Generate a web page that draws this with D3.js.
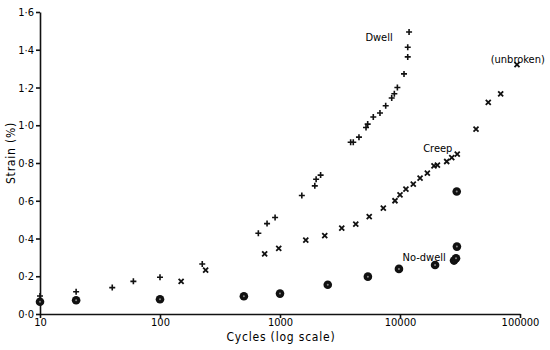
<!DOCTYPE html>
<html>
<head>
<meta charset="utf-8">
<script src="https://cdn.jsdelivr.net/npm/d3@7/dist/d3.min.js"></script>
<style>
  body { margin: 0; background: #fff; }
  svg { display: block; }
  text { font-family: "DejaVu Sans Condensed", "Liberation Sans Narrow", sans-serif; fill: #000; }
  .axis path, .axis line { stroke: #111; stroke-width: 1.6; }
</style>
</head>
<body>
<svg id="chart" width="550" height="350"></svg>
<script>
// values (cycles are on a log axis)
const dwellCycles = [10, 20, 40, 60, 100, 225, 660, 780, 910, 1520, 1950, 2000, 2180,
                     3880, 4080, 4550, 5210, 5380, 5990, 6810, 7600, 8530, 8970, 9510,
                     10800, 11600, 11600, 11900];
const dwellStrain = [0.095, 0.118, 0.14, 0.173, 0.195, 0.265, 0.428, 0.479, 0.511, 0.628, 0.679, 0.714, 0.736,
                     0.91, 0.91, 0.937, 0.988, 1.006, 1.044, 1.065, 1.103, 1.144, 1.167, 1.2,
                     1.272, 1.362, 1.413, 1.494];

const creepCycles = [150, 240, 745, 976, 1640, 2360, 3270, 4280, 5540, 7260, 9080, 10000,
                     11200, 12900, 14700, 16900, 19200, 20500, 24500, 27000, 30000,
                     43000, 54400, 69000, 94400];
const creepStrain = [0.173, 0.233, 0.318, 0.348, 0.391, 0.415, 0.455, 0.476, 0.516, 0.561, 0.6, 0.631,
                     0.661, 0.688, 0.72, 0.746, 0.785, 0.789, 0.808, 0.829, 0.847,
                     0.98, 1.121, 1.166, 1.321];

const noDwellCycles = [10, 20, 100, 500, 1000, 2500, 5400, 9800, 19600, 28200, 29300, 29800, 29700];
const noDwellStrain = [0.065, 0.073, 0.078, 0.094, 0.108, 0.155, 0.198, 0.239, 0.26, 0.283, 0.295, 0.357, 0.649];

const xTicks = [10, 100, 1000, 10000, 100000];
const yTicks = [0, 0.2, 0.4, 0.6, 0.8, 1.0, 1.2, 1.4, 1.6];

// series labels, anchored in data space
const labels = [
    {text: "Dwell", cycles: 5150, strain: 1.445},
    {text: "(unbroken)", cycles: 57000, strain: 1.33},
    {text: "Creep", cycles: 15600, strain: 0.86},
    {text: "No-dwell", cycles: 10500, strain: 0.28}
];

const svg = d3.select("#chart");
const x = d3.scaleLog().domain([10, 100000]).range([40, 520]);
const y = d3.scaleLinear().domain([0, 1.6]).range([314, 12]);

function zip(xs, ys) {
    return xs.map((c, i) => ({c: c, s: ys[i]}));
}

// axes
svg.append('g')
    .attr('class', "axis")
    .attr('transform', `translate(0,${y(0)})`)
    .call(d3.axisBottom(x).tickValues(xTicks).tickFormat(d3.format("d"))
          .tickSize(4).tickSizeOuter(0).tickPadding(1))
    .call(g => g.selectAll("text").attr('font-size', 11).attr('dy', "0.6em"));

svg.append('g')
    .attr('class', "axis")
    .attr('transform', `translate(${x(10)},0)`)
    .call(d3.axisLeft(y).tickValues(yTicks)
          .tickFormat(d => d3.format(".1f")(d).replace(".", "·"))
          .tickSize(4).tickSizeOuter(0).tickPadding(2))
    .call(g => g.selectAll("text").attr('font-size', 11));

svg.selectAll(".axis .domain").attr('stroke-width', 1.6);

svg.append('text')
    .attr('x', 281)
    .attr('y', 341)
    .attr('text-anchor', "middle")
    .attr('font-size', 12)
    .attr('letter-spacing', 0.8)
    .text("Cycles (log scale)");

svg.append('text')
    .attr('transform', `translate(15,${y(0.8) - 10}) rotate(-90)`)
    .attr('text-anchor', "middle")
    .attr('font-size', 12)
    .attr('letter-spacing', 0.8)
    .text("Strain (%)");

// no-dwell: filled circles
let nd = svg.append('g');
zip(noDwellCycles, noDwellStrain).forEach(p => {
    nd.append('circle')
        .attr('cx', x(p.c)).attr('cy', y(p.s))
        .attr('r', 4.3).attr('fill', "#111");
    nd.append('circle')
        .attr('cx', x(p.c)).attr('cy', y(p.s))
        .attr('r', 1).attr('fill', "#888");
});

// dwell: plus signs
svg.append('g')
    .selectAll("path")
    .data(zip(dwellCycles, dwellStrain))
    .join('path')
    .attr('d', p => `M${x(p.c) - 3},${y(p.s)}h6M${x(p.c)},${y(p.s) - 3}v6`)
    .attr('stroke', "#111")
    .attr('stroke-width', 1.6);

// creep: crosses
svg.append('g')
    .selectAll("path")
    .data(zip(creepCycles, creepStrain))
    .join('path')
    .attr('d', p => `M${x(p.c) - 2.5},${y(p.s) - 2.5}l5,5M${x(p.c) + 2.5},${y(p.s) - 2.5}l-5,5`)
    .attr('stroke', "#111")
    .attr('stroke-width', 1.8);

svg.append('g')
    .selectAll("text")
    .data(labels)
    .join('text')
    .attr('x', d => x(d.cycles))
    .attr('y', d => y(d.strain))
    .attr('font-size', 11)
    .text(d => d.text);
</script>
</body>
</html>
